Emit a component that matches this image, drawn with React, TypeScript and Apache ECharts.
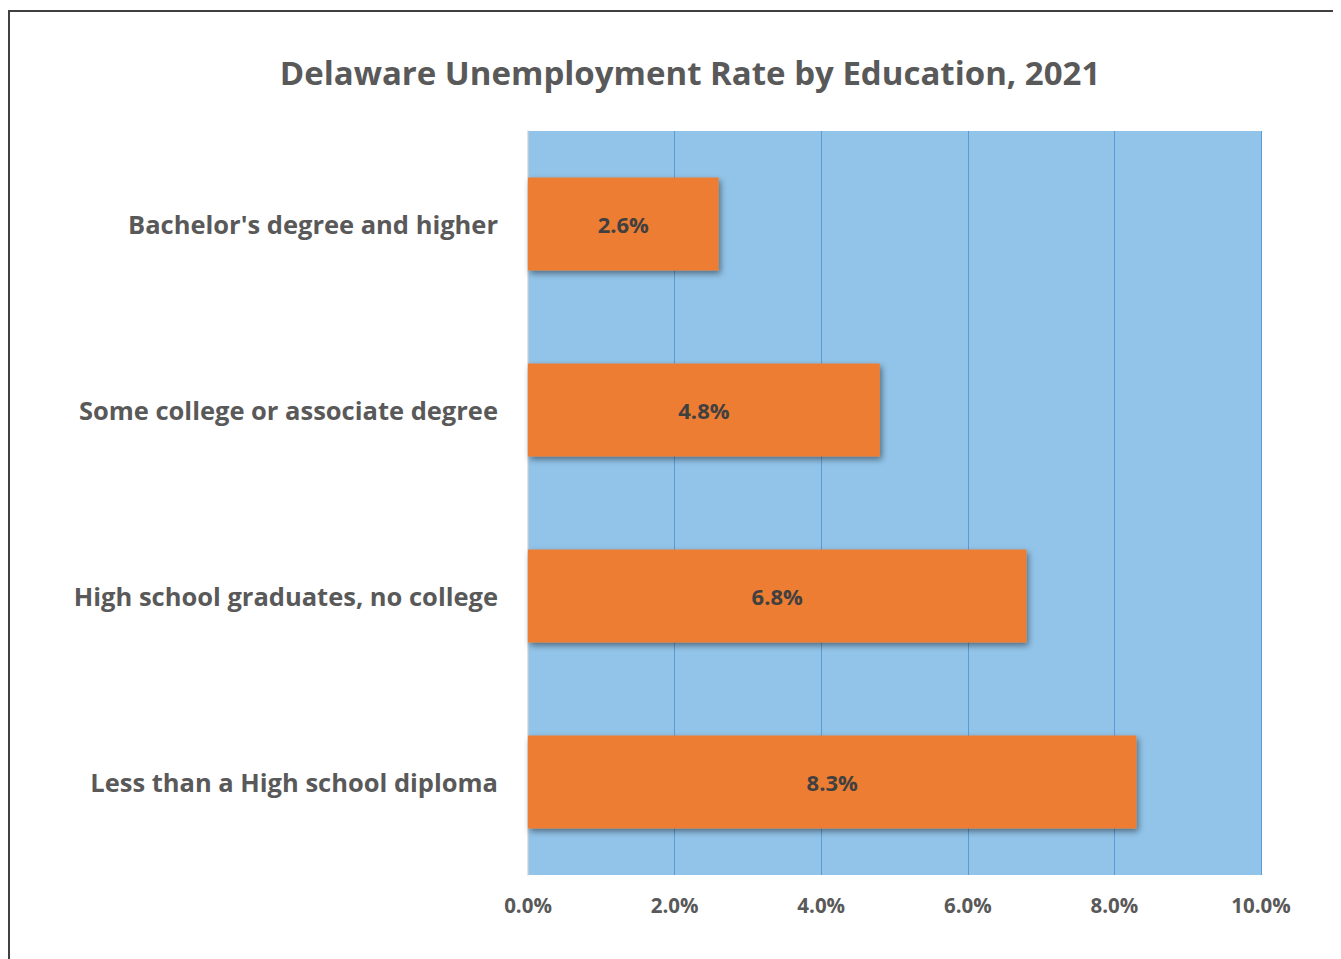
import React, { useEffect, useRef } from "react";
import * as echarts from "echarts";

const titleText = "Delaware Unemployment Rate by Education, 2021";
const categories = [
  "Bachelor's degree and higher",
  "Some college or associate degree",
  "High school graduates, no college",
  "Less than a High school diploma",
];
const rates = [2.6, 4.8, 6.8, 8.3];

export default function App() {
  const ref = useRef<HTMLDivElement>(null);
  useEffect(() => {
    const chart = echarts.init(ref.current!, null, { renderer: "svg" });
    const font = "'Open Sans', sans-serif";
    chart.setOption({
      animation: false,
      title: {
        text: titleText,
        left: 677,
        textAlign: "center",
        top: 43,
        textStyle: { fontFamily: font, fontSize: 33, fontWeight: "bold", color: "#595959" },
      },
      graphic: [
        {
          type: "rect",
          shape: { x: 1, y: 3, width: 1500, height: 1200 },
          style: { fill: "none", stroke: "#404040", lineWidth: 2 },
          silent: true,
        },
      ],
      grid: {
        left: 520,
        top: 123,
        width: 733,
        height: 744,
        show: true,
        backgroundColor: "#92C4E9",
        borderWidth: 0,
      },
      xAxis: {
        type: "value",
        min: 0,
        max: 10,
        interval: 2,
        axisLine: { show: false },
        axisTick: { show: false },
        splitLine: { show: true, lineStyle: { color: "#5B9BD5", width: 1 } },
        axisLabel: {
          formatter: (v: number) => v.toFixed(1) + "%",
          fontFamily: font,
          fontSize: 20.5,
          fontWeight: "bold",
          color: "#595959",
          margin: 19,
        },
      },
      yAxis: {
        type: "category",
        data: categories,
        inverse: true,
        axisLine: { show: true, lineStyle: { color: "#D9D9D9", width: 1.5 } },
        axisTick: { show: false },
        axisLabel: {
          fontFamily: font,
          fontSize: 25.5,
          fontWeight: "bold",
          color: "#595959",
          margin: 30,
        },
      },
      series: [
        {
          type: "bar",
          data: rates,
          barWidth: "50%",
          itemStyle: {
            color: "#ED7D31",
            shadowColor: "rgba(0,0,0,0.45)",
            shadowBlur: 6,
            shadowOffsetX: 2,
            shadowOffsetY: 3,
          },
          label: {
            show: true,
            position: "inside",
            formatter: (p: any) => p.value.toFixed(1) + "%",
            fontFamily: font,
            fontSize: 22,
            fontWeight: "bold",
            color: "#404040",
          },
        },
      ],
    });
    return () => chart.dispose();
  }, []);
  return <div ref={ref} style={{ width: 1333, height: 951 }} />;
}
